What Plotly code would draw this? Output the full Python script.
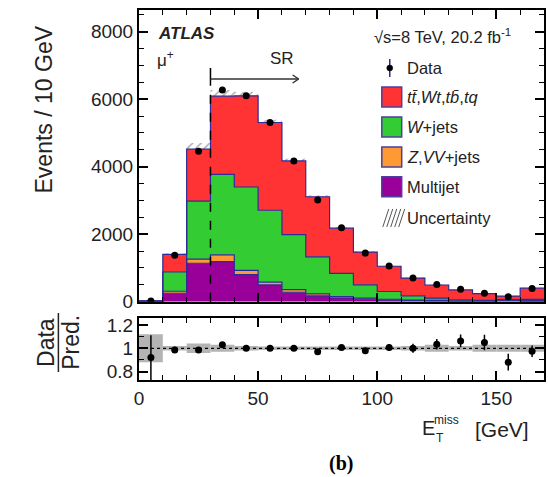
import numpy as np
import plotly.graph_objects as go

# ---------------- data ----------------
bin_edges = [0, 10, 20, 30, 40, 50, 60, 70, 80, 90, 100, 110, 120, 130, 140, 150, 160, 170]
data_counts = [23, 1380, 4457, 6270, 6100, 5310, 4170, 3017, 2193, 1440, 1057, 700, 512, 372, 250, 148, 390]
top_counts = [5, 520, 1540, 2320, 2702, 2600, 2184, 1780, 1340, 970, 748, 525, 388, 292, 197, 108, 330]
wjets_counts = [5, 570, 1720, 2380, 2470, 2130, 1630, 1100, 690, 395, 230, 125, 70, 30, 20, 15, 40]
zvv_counts = [3, 60, 120, 200, 128, 80, 76, 55, 40, 30, 22, 15, 12, 8, 6, 5, 10]
multijet_counts = [12, 250, 1140, 1190, 800, 500, 280, 175, 110, 75, 50, 35, 25, 20, 15, 40, 20]
unc_rel = [0.12, 0.02, 0.04, 0.03, 0.02, 0.015, 0.015, 0.015, 0.015, 0.015, 0.015, 0.02, 0.03, 0.02, 0.03, 0.03, 0.03]

y_ticks_main = [0, 2000, 4000, 6000, 8000]
x_ticks = [0, 50, 100, 150]
ratio_ticks = [0.8, 1.0, 1.2]
ratio_ticktext = ["0.8", "1", "1.2"]

SR_START, SR_END = 30, 67

# ---------------- derived ----------------
edges = np.array(bin_edges, dtype=float)
centers = (edges[:-1] + edges[1:]) / 2
data = np.array(data_counts, float)
layers = [
    ("Multijet", np.array(multijet_counts, float), "#990099"),
    ("Z,VV+jets", np.array(zvv_counts, float), "#FF9933"),
    ("W+jets", np.array(wjets_counts, float), "#33CC33"),
    ("top", np.array(top_counts, float), "#FF3333"),
]
pred = sum(l[1] for l in layers)
unc = np.array(unc_rel)
ratio = data / pred
ratio_err = np.sqrt(data) / pred
data_err = np.sqrt(data)

OUTLINE = "#2B2B9A"
FONT = "Liberation Sans, Arial, sans-serif"

W, H = 548, 477
PX_L, PX_R, PX_T, PX_B = 139, 546, 10, 380


def px(X):
    return (X - PX_L) / (PX_R - PX_L)


def py(Y):
    return (PX_B - Y) / (PX_B - PX_T)


fig = go.Figure()

# uncertainty hatch (drawn below stack)
fig.add_trace(go.Bar(
    x=centers, y=2 * pred * unc, base=pred * (1 - unc), width=10,
    marker=dict(color="rgba(0,0,0,0)", line=dict(width=0),
                pattern=dict(shape="/", fgcolor="#555555", size=6, solidity=0.25)),
    xaxis="x", yaxis="y", hoverinfo="skip"))

# ratio uncertainty band
fig.add_trace(go.Bar(
    x=centers, y=2 * unc, base=1 - unc, width=10,
    marker=dict(color="#b4b4b4", line=dict(width=0)),
    xaxis="x2", yaxis="y2", hoverinfo="skip"))

# stacked step histograms
for name, vals, col in layers:
    yv = np.append(vals, vals[-1])
    fig.add_trace(go.Scatter(
        x=edges, y=yv, mode="lines", line=dict(shape="hv", color=OUTLINE, width=1.2),
        stackgroup="stack", fillcolor=col, name=name, xaxis="x", yaxis="y"))

# data
fig.add_trace(go.Scatter(
    x=centers, y=data, mode="markers",
    marker=dict(color="black", size=7),
    error_y=dict(type="data", array=data_err, color=OUTLINE, thickness=1.5, width=0),
    xaxis="x", yaxis="y"))

# ratio points
fig.add_trace(go.Scatter(
    x=centers, y=ratio, mode="markers",
    marker=dict(color="black", size=7),
    error_y=dict(type="data", array=ratio_err, color="black", thickness=1.5, width=0),
    xaxis="x2", yaxis="y2"))

axis_common = dict(showline=True, linecolor="black", linewidth=2, mirror="allticks",
                   ticks="inside", tickcolor="black", tickwidth=1.5, ticklen=9,
                   showgrid=False, zeroline=False,
                   tickfont=dict(family=FONT, size=19, color="#222"))

main_bottom = py(301.7)
ratio_top = py(318.3)

fig.update_layout(
    width=W, height=H,
    margin=dict(l=PX_L, r=W - PX_R, t=PX_T, b=H - PX_B),
    paper_bgcolor="white", plot_bgcolor="white",
    showlegend=False, barmode="overlay",
    xaxis=dict(domain=[0, 1], range=[0, 170], anchor="y", tickvals=x_ticks, showticklabels=False,
               minor=dict(ticks="inside", dtick=10, tick0=0, ticklen=5, tickcolor="black", tickwidth=1.2),
               **axis_common),
    yaxis=dict(domain=[main_bottom, 1], range=[0, 8643], anchor="x", tickvals=y_ticks_main,
               minor=dict(ticks="inside", dtick=500, tick0=0, ticklen=5, tickcolor="black", tickwidth=1.2),
               **axis_common),
    xaxis2=dict(domain=[0, 1], range=[0, 170], anchor="y2", tickvals=x_ticks,
                minor=dict(ticks="inside", dtick=10, tick0=0, ticklen=5, tickcolor="black", tickwidth=1.2),
                **axis_common),
    yaxis2=dict(domain=[0, ratio_top], range=[0.728, 1.257], anchor="x2",
                tickvals=ratio_ticks, ticktext=ratio_ticktext,
                minor=dict(ticks="inside", dtick=0.1, tick0=0.7, ticklen=5, tickcolor="black", tickwidth=1.2),
                **axis_common),
)

shapes = []
# ratio reference line
shapes.append(dict(type="line", xref="x2", yref="y2", x0=0, x1=170, y0=1, y1=1,
                   line=dict(color="black", width=1.2, dash="dot")))
# SR dashed line
y_arrow = (301.7 - 79) / 0.03375
y_tick_top = (301.7 - 68) / 0.03375
y_tick_bot = (301.7 - 83) / 0.03375
shapes.append(dict(type="line", xref="x", yref="y", x0=SR_START, x1=SR_START, y0=0, y1=y_tick_bot,
                   line=dict(color="black", width=1.5, dash="dash")))
shapes.append(dict(type="line", xref="x", yref="y", x0=SR_START, x1=SR_START, y0=y_tick_bot, y1=y_tick_top,
                   line=dict(color="black", width=1.5)))
shapes.append(dict(type="line", xref="x", yref="y", x0=SR_START, x1=SR_END, y0=y_arrow, y1=y_arrow,
                   line=dict(color="#333", width=1.5)))
dy = 4 / 0.03375
dx = 6 / 2.394
for s in (1, -1):
    shapes.append(dict(type="line", xref="x", yref="y", x0=SR_END - dx, x1=SR_END, y0=y_arrow + s * dy, y1=y_arrow,
                       line=dict(color="#333", width=1.5)))

# legend boxes
legend_items = [
    ("<i>tt̄</i>,<i>Wt</i>,<i>tb̄</i>,<i>tq</i>", "#FF3333", 97),
    ("<i>W</i>+jets", "#33CC33", 127),
    ("<i>Z</i>,<i>VV</i>+jets", "#FF9933", 157),
    ("Multijet", "#990099", 186.7),
]
BX0, BX1 = 383, 403
for _, col, yc in legend_items:
    shapes.append(dict(type="rect", xref="paper", yref="paper",
                       x0=px(BX0), x1=px(BX1), y0=py(yc + 10), y1=py(yc - 10),
                       fillcolor=col, line=dict(color="#4b3fa0", width=1.5)))
# data legend symbol
shapes.append(dict(type="line", xref="paper", yref="paper", x0=px(391), x1=px(391), y0=py(77), y1=py(59),
                   line=dict(color=OUTLINE, width=1.5)))
shapes.append(dict(type="circle", xref="paper", yref="paper", x0=px(388), x1=px(394), y0=py(71), y1=py(65),
                   fillcolor="black", line=dict(color="black", width=0.5)))
# uncertainty hatch legend
for k in range(5):
    x0 = 384 + k * 4
    shapes.append(dict(type="line", xref="paper", yref="paper", x0=px(x0), x1=px(x0 + 6), y0=py(227), y1=py(209),
                       line=dict(color="#555", width=1)))
# ratio title fraction line
shapes.append(dict(type="line", xref="paper", yref="paper", x0=px(58), x1=px(58), y0=py(372), y1=py(313),
                   line=dict(color="#222", width=1.5)))

annotations = []


def ann(text, X, Y, size, xanchor="left", yanchor="middle", angle=0, family=FONT, color="#222"):
    annotations.append(dict(text=text, x=px(X), y=py(Y), xref="paper", yref="paper",
                            xanchor=xanchor, yanchor=yanchor, showarrow=False, textangle=angle,
                            font=dict(family=family, size=size, color=color)))


ann("<b><i>ATLAS</i></b>", 156, 33, 17)
ann("μ<sup>+</sup>", 155, 59, 17)
ann("√s=8 TeV, 20.2 fb<sup>-1</sup>", 373, 36, 16.5)
ann("SR", 283, 59, 17, xanchor="center")
ann("Data", 406, 68, 16.5)
for text, _, yc in legend_items:
    ann(text, 406, yc, 16.5)
ann("Uncertainty", 406, 218, 16.5)

ann("Events / 10 GeV", 44, 109, 23, xanchor="center", angle=-90)
ann("Data", 45, 342.5, 23, xanchor="center", angle=-90)
ann("Pred.", 70, 342.5, 23, xanchor="center", angle=-90)

ann("E", 429.5, 428, 20, xanchor="center")
ann("miss", 448.5, 420, 12, xanchor="center")
ann("T", 441.5, 438, 12, xanchor="center")
ann("[GeV]", 504, 429, 21, xanchor="center")
ann("<b>(b)</b>", 342, 463, 20, xanchor="center", family="Liberation Serif, Times New Roman, serif", color="black")

fig.update_layout(shapes=shapes, annotations=annotations)

fig.write_html("out.html")
